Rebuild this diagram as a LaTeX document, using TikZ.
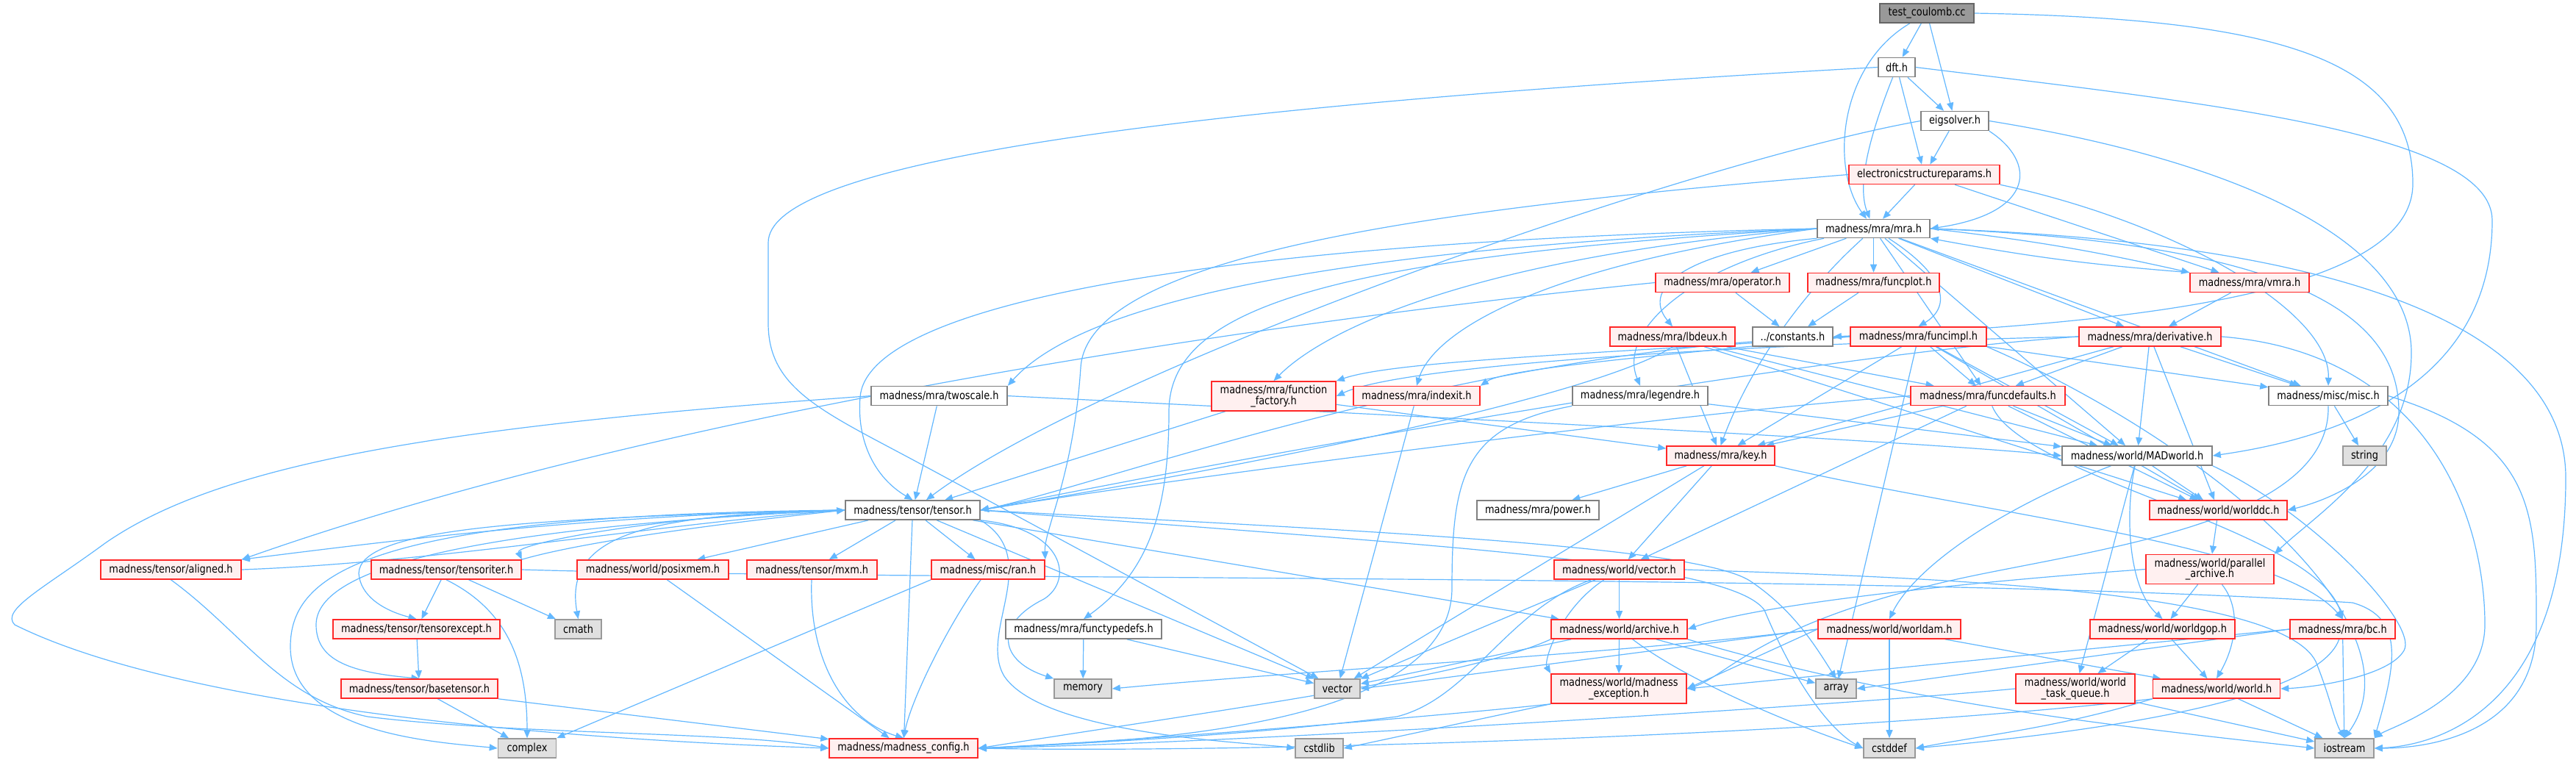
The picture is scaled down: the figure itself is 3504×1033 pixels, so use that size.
\documentclass[tikz,border=0pt]{standalone}
\usepackage{fontspec}
\setmainfont{DejaVu Sans}[FakeStretch=0.85]
\usetikzlibrary{arrows.meta}
\definecolor{edgeblue}{RGB}{99,184,255}
\definecolor{redbord}{RGB}{255,40,40}
\definecolor{pinkfill}{RGB}{255,240,240}
\definecolor{graybord}{RGB}{128,128,128}
\definecolor{rootfill}{RGB}{153,153,153}
\definecolor{rootbord}{RGB}{102,102,102}
\definecolor{sysfill}{RGB}{224,224,224}
\definecolor{sysbord}{RGB}{153,153,153}
\newcommand\nodefnt{\fontsize{7.6}{7.4}\selectfont}
\pgfdeclarelayer{background}
\pgfsetlayers{background,main}
\tikzset{
 nd/.style={draw, rectangle, inner sep=0pt, line width=0.8pt, font=\nodefnt, align=center},
 wnode/.style={nd, draw=graybord, fill=white},
 rnode/.style={nd, draw=redbord, fill=pinkfill},
 snode/.style={nd, draw=sysbord, fill=sysfill},
 rootnode/.style={nd, draw=rootbord, fill=rootfill},
 wh/.style 2 args={minimum width=#1*0.5pt, minimum height=#2*0.5pt},
 e/.style={draw=edgeblue, line width=0.6pt, -{Triangle[length=5.5pt,width=4.5pt]}}
}
\begin{document}
\begin{tikzpicture}[x=0.5pt,y=-0.5pt]
\useasboundingbox (0,0) rectangle (3504,1033);
% nodes
\node[rootnode, wh={128}{26}] (test) at (2621,18) {test\_coulomb.cc};
\node[wnode, wh={50}{26}] (dft) at (2580,91.5) {dft.h};
\node[wnode, wh={92}{26}] (eig) at (2659,164.5) {eigsolver.h};
\node[rnode, wh={205}{26}] (esp) at (2617.5,237.5) {electronicstructureparams.h};
\node[wnode, wh={153}{25}] (mra) at (2548.5,311) {madness/mra/mra.h};
\node[rnode, wh={182}{26}] (oper) at (2343,384.5) {madness/mra/operator.h};
\node[rnode, wh={179}{26}] (fplot) at (2548.5,384.5) {madness/mra/funcplot.h};
\node[rnode, wh={162}{26}] (vmra) at (3060,384.5) {madness/mra/vmra.h};
\node[rnode, wh={170}{26}] (lbd) at (2275,458) {madness/mra/lbdeux.h};
\node[wnode, wh={109}{26}] (const) at (2438.5,458) {../constants.h};
\node[rnode, wh={185}{26}] (fimpl) at (2609.5,458) {madness/mra/funcimpl.h};
\node[rnode, wh={193}{26}] (deriv) at (2924.5,458) {madness/mra/derivative.h};
\node[rnode, wh={169}{40}] (ffac) at (1732.5,539) {madness/mra/function\\\_factory.h};
\node[rnode, wh={172}{26}] (idx) at (1927,538.6) {madness/mra/indexit.h};
\node[wnode, wh={184}{26}] (leg) at (2231,538.6) {madness/mra/legendre.h};
\node[rnode, wh={210}{26}] (fdef) at (2704,538.6) {madness/mra/funcdefaults.h};
\node[wnode, wh={162}{26}] (misc) at (3167,538.6) {madness/misc/misc.h};
\node[wnode, wh={185}{26}] (twos) at (1277.5,538.6) {madness/mra/twoscale.h};
\node[rnode, wh={147}{26}] (key) at (2340.5,620) {madness/mra/key.h};
\node[wnode, wh={204}{26}] (madw) at (2907,620) {madness/world/MADworld.h};
\node[snode, wh={59}{26}] (string) at (3216.5,620) {string};
\node[wnode, wh={166}{26}] (power) at (2092,694) {madness/mra/power.h};
\node[rnode, wh={187}{26}] (wdc) at (3017.5,694) {madness/world/worlddc.h};
\node[wnode, wh={183}{26}] (tensor) at (1241.5,694) {madness/tensor/tensor.h};
\node[rnode, wh={191}{26}] (aligned) at (232.5,775) {madness/tensor/aligned.h};
\node[rnode, wh={204}{26}] (titer) at (607,775) {madness/tensor/tensoriter.h};
\node[rnode, wh={206}{26}] (posix) at (888,775) {madness/world/posixmem.h};
\node[rnode, wh={177}{26}] (mxm) at (1104.5,775) {madness/tensor/mxm.h};
\node[rnode, wh={154}{26}] (ran) at (1344,775) {madness/misc/ran.h};
\node[rnode, wh={177}{26}] (wvec) at (2202.5,775) {madness/world/vector.h};
\node[rnode, wh={174}{40}] (parch) at (3006,774.5) {madness/world/parallel\\\_archive.h};
\node[snode, wh={63}{26}] (cmath) at (786.5,856) {cmath};
\node[wnode, wh={212}{26}] (ftd) at (1474,856) {madness/mra/functypedefs.h};
\node[rnode, wh={185}{26}] (arch) at (2202.5,856) {madness/world/archive.h};
\node[rnode, wh={194}{26}] (wam) at (2570,856) {madness/world/worldam.h};
\node[rnode, wh={197}{26}] (wgop) at (2941.5,856) {madness/world/worldgop.h};
\node[rnode, wh={143}{26}] (bc) at (3186.5,856) {madness/mra/bc.h};
\node[rnode, wh={227}{26}] (texc) at (566.5,856) {madness/tensor/tensorexcept.h};
\node[rnode, wh={213}{26}] (btens) at (570.5,937) {madness/tensor/basetensor.h};
\node[snode, wh={78}{26}] (memory) at (1473,937) {memory};
\node[snode, wh={62}{26}] (vector) at (1819,937) {vector};
\node[snode, wh={55}{26}] (array) at (2497.5,937) {array};
\node[rnode, wh={184}{40}] (mexc) at (2202,937) {madness/world/madness\\\_exception.h};
\node[rnode, wh={162}{40}] (wtq) at (2823,937) {madness/world/world\\\_task\_queue.h};
\node[rnode, wh={173}{26}] (world) at (3015,937) {madness/world/world.h};
\node[snode, wh={79}{26}] (complex) at (717,1018) {complex};
\node[rnode, wh={202}{26}] (mconf) at (1229,1018) {madness/madness\_config.h};
\node[snode, wh={65}{26}] (cstdlib) at (1794.5,1018) {cstdlib};
\node[snode, wh={70}{26}] (cstddef) at (2570,1018) {cstddef};
\node[snode, wh={80}{26}] (iostream) at (3189,1018) {iostream};

\begin{pgfonlayer}{background}
\fill[white] (0,0) rectangle (3504,1033);
% test
\draw[e] (test) -- (dft);
\draw[e] (test) -- (eig);
\draw[e] (test) .. controls (2500,90) and (2490,230) .. (mra);
\draw[e] (test.east) .. controls (3100,25) and (3282,80) .. (3282,250) .. controls (3282,400) and (2900,440) .. (const.east);
% dft
\draw[e] (dft) -- (eig);
\draw[e] (dft) -- (esp);
\draw[e] (dft) .. controls (2545,180) and (2525,250) .. (mra);
\draw[e] (dft.east) .. controls (3000,140) and (3390,180) .. (3390,300) .. controls (3390,540) and (3150,600) .. (madw.east);
\draw[e] (dft.west) .. controls (1500,150) and (1045,230) .. (1045,330) -- (1045,440) .. controls (1045,530) and (1120,560) .. (1250,630) -- (vector);
% eigsolver
\draw[e] (eig) -- (esp);
\draw[e] (eig.south east) .. controls (2770,220) and (2770,290) .. (mra.east);
\draw[e] (eig.west) .. controls (2300,220) and (1500,500) .. (tensor);
\draw[e] (eig.east) .. controls (3050,220) and (3280,330) .. (3280,480) .. controls (3280,620) and (3150,700) .. (parch.north east);
% esp
\draw[e] (esp) -- (mra);
\draw[e] (esp) -- (vmra);
\draw[e] (esp.south east) .. controls (2950,300) and (3170,420) .. (misc.north);
\draw[e] (esp.west) .. controls (2000,280) and (1480,340) .. (1470,500) .. controls (1460,650) and (1420,720) .. (ran.north east);
% mra
\draw[e] (mra) -- (oper);
\draw[e] (mra) -- (fplot);
\draw[e] (mra.east) to[bend left=3] (vmra.north west);
\draw[e] (vmra.north west) to[bend left=3] (mra.south east);
\draw[e] (mra.south west) .. controls (2300,340) and (2230,390) .. (lbd.north);
\draw[e] (mra) .. controls (2655,380) and (2650,420) .. (fimpl.north);
\draw[e] (mra) -- (deriv);
\draw[e] (mra.west) .. controls (2000,350) and (1800,450) .. (ffac.north);
\draw[e] (mra.west) .. controls (2100,360) and (1950,450) .. (idx.north);
\draw[e] (mra) .. controls (2300,360) and (2200,450) .. (leg.north);
\draw[e] (mra) -- (fdef);
\draw[e] (mra) -- (misc);
\draw[e] (mra.west) .. controls (2000,330) and (1500,380) .. (twos.north east);
\draw[e] (mra) .. controls (2450,400) and (2380,500) .. (key.north);
\draw[e] (mra) -- (madw);
\draw[e] (mra.east) .. controls (3100,330) and (3263,420) .. (3263,560) .. controls (3263,650) and (3150,685) .. (wdc.east);
\draw[e] (mra.west) .. controls (1600,330) and (1180,420) .. (1170,540) .. controls (1165,600) and (1190,650) .. (tensor.north);
\draw[e] (mra.west) .. controls (1800,350) and (1590,420) .. (1590,560) .. controls (1590,700) and (1560,780) .. (ftd.north);
\draw[e] (mra.east) .. controls (3200,330) and (3490,450) .. (3490,650) .. controls (3490,980) and (3300,1015) .. (iostream.east);
% operator, funcplot, vmra
\draw[e] (oper) -- (const);
\draw[e] (oper.west) .. controls (1700,440) and (900,560) .. (aligned.north east);
\draw[e] (fplot) -- (const);
\draw[e] (vmra) -- (deriv);
% lbdeux
\draw[e] (lbd.south) .. controls (2200,520) and (1900,600) .. (tensor.east);
\draw[e] (lbd) -- (key);
\draw[e] (lbd) -- (madw);
\draw[e] (lbd) -- (wdc);
\draw[e] (lbd) -- (fdef);
% funcimpl
\draw[e] (fimpl) -- (key);
\draw[e] (fimpl) -- (fdef);
\draw[e] (fimpl) -- (madw);
\draw[e] (fimpl) -- (wdc);
\draw[e] (fimpl) -- (misc);
\draw[e] (fimpl.west) .. controls (2200,480) and (1900,490) .. (ffac.north east);
\draw[e] (fimpl.west) .. controls (2300,480) and (2050,500) .. (idx.north east);
\draw[e] (fimpl.west) .. controls (2000,470) and (1500,660) .. (tensor.east);
\draw[e] (fimpl) -- (array);
\draw[e] (fimpl.south east) .. controls (3000,600) and (3300,850) .. (iostream.north);
% derivative
\draw[e] (deriv) -- (fdef);
\draw[e] (deriv) -- (madw);
\draw[e] (deriv) -- (wdc);
\draw[e] (deriv) -- (misc);
\draw[e] (deriv.east) .. controls (3300,480) and (3380,700) .. (3380,850) .. controls (3380,950) and (3250,990) .. (iostream.north east);
\draw[e] (deriv.west) .. controls (2500,480) and (1800,600) .. (tensor.east);
\draw[e] (deriv) -- (key);
\draw[e] (deriv.west) .. controls (2300,470) and (1900,500) .. (ffac.east);
% function_factory, indexit, legendre
\draw[e] (ffac) -- (key);
\draw[e] (ffac) -- (tensor);
\draw[e] (idx) -- (vector);
\draw[e] (leg.south west) .. controls (1990,580) and (1975,650) .. (1975,800) .. controls (1975,1000) and (1500,1010) .. (mconf.east);
\draw[e] (leg) -- (madw);
% funcdefaults
\draw[e] (fdef) -- (key);
\draw[e] (fdef) -- (madw);
\draw[e] (fdef) -- (wdc);
\draw[e] (fdef) .. controls (2750,650) and (3150,720) .. (bc.north);
\draw[e] (fdef.west) .. controls (2300,560) and (1600,650) .. (tensor.east);
\draw[e] (fdef) -- (wvec);
% misc
\draw[e] (misc) -- (string);
\draw[e] (misc.east) .. controls (3450,600) and (3450,700) .. (3450,850) .. controls (3450,1000) and (3300,1018) .. (iostream.east);
\draw[e] (misc.south) .. controls (3170,700) and (2900,740) .. (2700,780) .. controls (2400,840) and (2350,920) .. (mexc.east);
% twoscale
\draw[e] (twos) -- (tensor);
\draw[e] (twos.east) .. controls (2000,570) and (2600,600) .. (madw.west);
\draw[e] (twos.west) .. controls (600,580) and (300,630) .. (143,739) .. controls (60,800) and (0,830) .. (20,850) .. controls (200,940) and (600,1000) .. (mconf.west);
% key
\draw[e] (key) -- (power);
\draw[e] (key) -- (wvec);
\draw[e] (key) -- (vector);
\draw[e] (key.south east) .. controls (2700,700) and (3100,740) .. (bc.north);
% MADworld
\draw[e] (madw) -- (wdc);
\draw[e] (madw) .. controls (2890,700) and (2895,800) .. (wgop.north);
\draw[e] (madw) -- (wtq);
\draw[e] (madw) .. controls (2700,700) and (2600,780) .. (wam.north);
\draw[e] (madw.south east) .. controls (3150,700) and (3290,850) .. (3270,885) .. controls (3250,920) and (3150,935) .. (world.east);
% worlddc, parallel archive
\draw[e] (wdc) -- (parch);
\draw[e] (parch) -- (wgop);
\draw[e] (parch) .. controls (3050,830) and (3040,880) .. (world.north);
\draw[e] (parch.west) .. controls (2700,790) and (2400,820) .. (arch.east);
% tensor
\draw[e] (tensor) -- (posix);
\draw[e] (tensor) -- (mxm);
\draw[e] (tensor) -- (ran);
\draw[e] (tensor) -- (mconf);
\draw[e] (tensor.west) .. controls (800,700) and (500,740) .. (aligned.north east);
\draw[e] (aligned.east) .. controls (600,765) and (900,712) .. (tensor.west);
\draw[e] (tensor.west) .. controls (900,700) and (700,740) .. (titer.north east);
\draw[e] (titer.north east) .. controls (800,735) and (1000,710) .. (tensor.west);
\draw[e] (tensor.west) .. controls (700,705) and (490,720) .. (488,780) .. controls (490,810) and (520,830) .. (texc.north);
\draw[e] (tensor.west) .. controls (600,720) and (430,780) .. (430,850) .. controls (430,900) and (480,915) .. (btens.north);
\draw[e] (tensor.west) .. controls (900,700) and (765,720) .. (cmath.north);
\draw[e] (tensor.west) .. controls (500,700) and (395,780) .. (395,880) .. controls (395,1000) and (600,1010) .. (complex.west);
\draw[e] (tensor.south east) .. controls (1450,720) and (1460,790) .. (1420,815) .. controls (1350,850) and (1360,900) .. (memory.north west);
\draw[e] (tensor) -- (vector);
\draw[e] (tensor) -- (arch);
\draw[e] (tensor.east) .. controls (1800,720) and (2300,740) .. (2380,790) .. controls (2440,830) and (2470,880) .. (array.north);
\draw[e] (tensor.east) .. controls (1900,740) and (2350,760) .. (2400,830) .. controls (2450,950) and (2500,1000) .. (cstddef.west);
\draw[e] (tensor.south east) .. controls (1420,760) and (1330,860) .. (1366,920) .. controls (1420,1000) and (1700,1010) .. (cstdlib.west);
% aligned, tensoriter, tensorexcept, basetensor
\draw[e] (aligned.south) .. controls (330,860) and (380,950) .. (500,975) .. controls (700,1000) and (1000,995) .. (mconf.west);
\draw[e] (titer) -- (texc);
\draw[e] (titer) -- (cmath);
\draw[e] (titer.south) .. controls (690,830) and (717,900) .. (complex.north);
\draw[e] (titer.east) .. controls (1200,790) and (2600,780) .. (3200,820) .. controls (3270,840) and (3260,900) .. (iostream.north east);
\draw[e] (texc) -- (btens);
\draw[e] (btens) -- (complex);
\draw[e] (btens.south east) -- (mconf);
% posixmem, mxm, ran
\draw[e] (posix) -- (mconf);
\draw[e] (mxm) .. controls (1100,900) and (1150,980) .. (mconf.north);
\draw[e] (ran) .. controls (1290,850) and (1240,950) .. (mconf.north);
\draw[e] (ran.south west) -- (complex.north east);
% functypedefs
\draw[e] (ftd) -- (memory);
\draw[e] (ftd) -- (vector);
% world/vector.h
\draw[e] (wvec) -- (arch);
\draw[e] (wvec) .. controls (2120,830) and (2100,900) .. (mexc.north west);
\draw[e] (wvec) -- (vector);
\draw[e] (wvec) .. controls (2050,830) and (2000,950) .. (1900,975) .. controls (1700,1000) and (1500,1010) .. (mconf.east);
\draw[e] (wvec.east) .. controls (2600,785) and (3100,800) .. (3150,900) .. controls (3170,950) and (3175,980) .. (iostream.north);
% archive
\draw[e] (arch) -- (mexc);
\draw[e] (arch) -- (vector);
\draw[e] (arch) -- (array);
\draw[e] (arch) .. controls (2300,930) and (2450,990) .. (cstddef.west);
\draw[e] (arch.south east) .. controls (2600,960) and (2900,990) .. (iostream.west);
\draw[e] (arch.south west) .. controls (2000,920) and (1700,960) .. (mconf.east);
% worldam
\draw[e] (wam.west) -- (vector.east);
\draw[e] (wam.west) .. controls (2200,890) and (1800,910) .. (memory.east);
\draw[e] (wam.west) -- (mexc.east);
\draw[e] (wam) -- (cstddef);
\draw[e] (wam) -- (world);
% worldgop
\draw[e] (wgop) -- (wtq);
\draw[e] (wgop) -- (world);
% bc
\draw[e] (bc.west) -- (array.east);
\draw[e] (bc.west) -- (mexc.east);
\draw[e] (bc) -- (iostream);
\draw[e] (bc) .. controls (3150,960) and (2800,1000) .. (cstddef.east);
% madness_exception
\draw[e] (mexc.south west) .. controls (2000,970) and (1600,1005) .. (mconf.east);
\draw[e] (mexc.south west) -- (cstdlib.east);
% world task queue
\draw[e] (wtq.west) .. controls (2500,960) and (1700,1010) .. (mconf.east);
\draw[e] (wtq) -- (iostream);
% world
\draw[e] (world) -- (iostream);
\draw[e] (world.south west) .. controls (2800,990) and (2700,1000) .. (cstddef.east);
\draw[e] (world.south west) .. controls (2500,1000) and (1700,1025) .. (mconf.east);
\end{pgfonlayer}
\end{tikzpicture}
\end{document}
